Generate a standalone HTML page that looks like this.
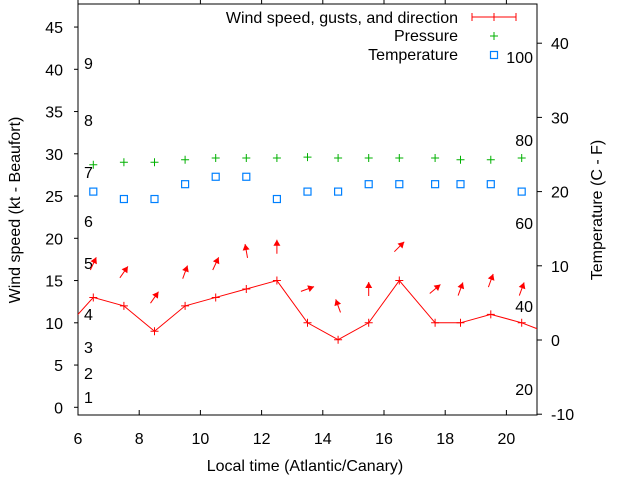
<!DOCTYPE html>
<html><head><meta charset="utf-8"><style>
body{margin:0;background:#fff}
svg{display:block;font-family:"Liberation Sans",sans-serif;font-size:16px}
</style></head><body>
<svg width="640" height="480" viewBox="0 0 640 480">
<g id="g"></g>
</svg>
<script>
const times=[6.5,7.5,8.5,9.5,10.5,11.5,12.5,13.5,14.5,15.5,16.5,17.67,18.5,19.49,20.5];
const wind=[13,12,9,12,13,14,15,10,8,10,15,10,10,11,10];
const gust=[17,16,13,16,17,18.5,19,14,12,14,19,14,14,15,14];
const dir=[25,35,35,20,25,-10,0,70,-20,0,45,50,20,20,20];
const pressure=[28.7,29.0,29.0,29.3,29.5,29.5,29.5,29.6,29.5,29.5,29.5,29.5,29.3,29.3,29.5];
const temp=[20,19,19,21,22,22,19,20,20,21,21,21,21,21,20];
const xTicks=[6,8,10,12,14,16,18,20];
const yTicks=[0,5,10,15,20,25,30,35,40,45];
const y2Ticks=[-10,0,10,20,30,40];
const beaufort=[[1,397],[2,373],[3,347],[4,314],[5,263],[6,221],[7,172],[8,120],[9,63]];
const fahr=[[20,389],[40,306],[60,223],[80,140],[100,57]];
const L=78,R=537,T=4,B=415;
const X=v=>L+(v-6)*30.6;
const Y=v=>407.3-v*8.45;
const Y2=v=>340-v*7.42;
const NS='http://www.w3.org/2000/svg';
const g=document.getElementById('g');
function mk(t,a,p){const e=document.createElementNS(NS,t);for(const k in a)e.setAttribute(k,a[k]);(p||g).appendChild(e);return e;}
function txt(x,y,s,anchor,name,extra){const e=mk('text',Object.assign({x:x,y:y,'text-anchor':anchor||'middle',fill:'#000'},extra||{}));e.textContent=s;


return e;}
const defs=mk('defs',{});const cp=mk('clipPath',{id:'c'},defs);mk('rect',{x:L,y:T,width:R-L,height:B-T},cp);
const fr=mk('rect',{x:L,y:T,width:R-L,height:B-T,fill:'none',stroke:'#000','stroke-width':1});


xTicks.forEach(v=>{const x=X(v);mk('line',{x1:x,y1:B,x2:x,y2:B-5,stroke:'#000'});mk('line',{x1:x,y1:T,x2:x,y2:T-5,stroke:'#000'});txt(x,444,String(v),'middle','x-tick-label');});
yTicks.forEach(v=>{const y=Y(v);mk('line',{x1:L,y1:y,x2:L-4,y2:y,stroke:'#000'});txt(63,y+6,String(v),'end','y-tick-label');});
y2Ticks.forEach(v=>{const y=Y2(v);mk('line',{x1:R,y1:y,x2:R+5,y2:y,stroke:'#000'});txt(551,y+6,String(v),'start','y2-tick-label');});
beaufort.forEach(b=>txt(84,b[1]+6,String(b[0]),'start','beaufort-label'));
fahr.forEach(f=>txt(533,f[1]+6,String(f[0]),'end','fahrenheit-label'));
txt(305,471,'Local time (Atlantic/Canary)','middle','x-axis-title');
txt(0,0,'Wind speed (kt - Beaufort)','middle','y-axis-title',{transform:'translate(20,210) rotate(-90)'});
txt(0,0,'Temperature (C - F)','middle','y2-axis-title',{transform:'translate(602,210) rotate(-90)'});
const dg=mk('g',{'clip-path':'url(#c)'});
let pts=times.map((t,i)=>[X(t),Y(wind[i])]);
const last=[X(21.5),Y(8.6)];
const all=[[X(5.5),Y(9)]].concat(pts,[last]);
const pl=mk('polyline',{points:all.map(p=>p.join(',')).join(' '),fill:'none',stroke:'#f00','stroke-width':1},dg);


pts.forEach(p=>{const e=mk('path',{d:`M${p[0]-4},${p[1]}h8M${p[0]},${p[1]-4}v8`,stroke:'#f00','stroke-width':1},dg);

});
times.forEach((t,i)=>{const cx=X(t),cy=Y(gust[i]);const a=dir[i]*Math.PI/180;const dx=Math.sin(a),dy=-Math.cos(a);const len=14;
const x1=cx-dx*len/2,y1=cy-dy*len/2,x2=cx+dx*len/2,y2=cy+dy*len/2;
const ag=mk('g',{},dg);


mk('line',{x1:x1,y1:y1,x2:x2,y2:y2,stroke:'#f00','stroke-width':1},ag);
const px=-dy,py=dx;const bx=x2-dx*6,by=y2-dy*6;
mk('polygon',{points:`${x2},${y2} ${bx+px*3.5},${by+py*3.5} ${bx-px*3.5},${by-py*3.5}`,fill:'#f00'},ag);});
times.forEach((t,i)=>{const x=X(t),y=Y(pressure[i]);const e=mk('path',{d:`M${x-4},${y}h8M${x},${y-4}v8`,stroke:'#00b000','stroke-width':1},dg);

});
times.forEach((t,i)=>{const x=X(t),y=Y2(temp[i]);const e=mk('rect',{x:x-3.5,y:y-3.5,width:7,height:7,fill:'none',stroke:'#0080ff','stroke-width':1.2},dg);

});
const lg=mk('g',{});


txt(458,23,'Wind speed, gusts, and direction','end','legend-wind',{});
mk('path',{d:'M472,17h44M472,13v8M516,13v8M494,13v8',stroke:'#f00','stroke-width':1},lg);
txt(458,41,'Pressure','end','legend-pressure');
mk('path',{d:'M490,36h8M494,32v8',stroke:'#00b000'},lg);
txt(458,60,'Temperature','end','legend-temperature');
mk('rect',{x:490.5,y:51.5,width:7,height:7,fill:'none',stroke:'#0080ff','stroke-width':1.2},lg);
</script>
</body></html>
